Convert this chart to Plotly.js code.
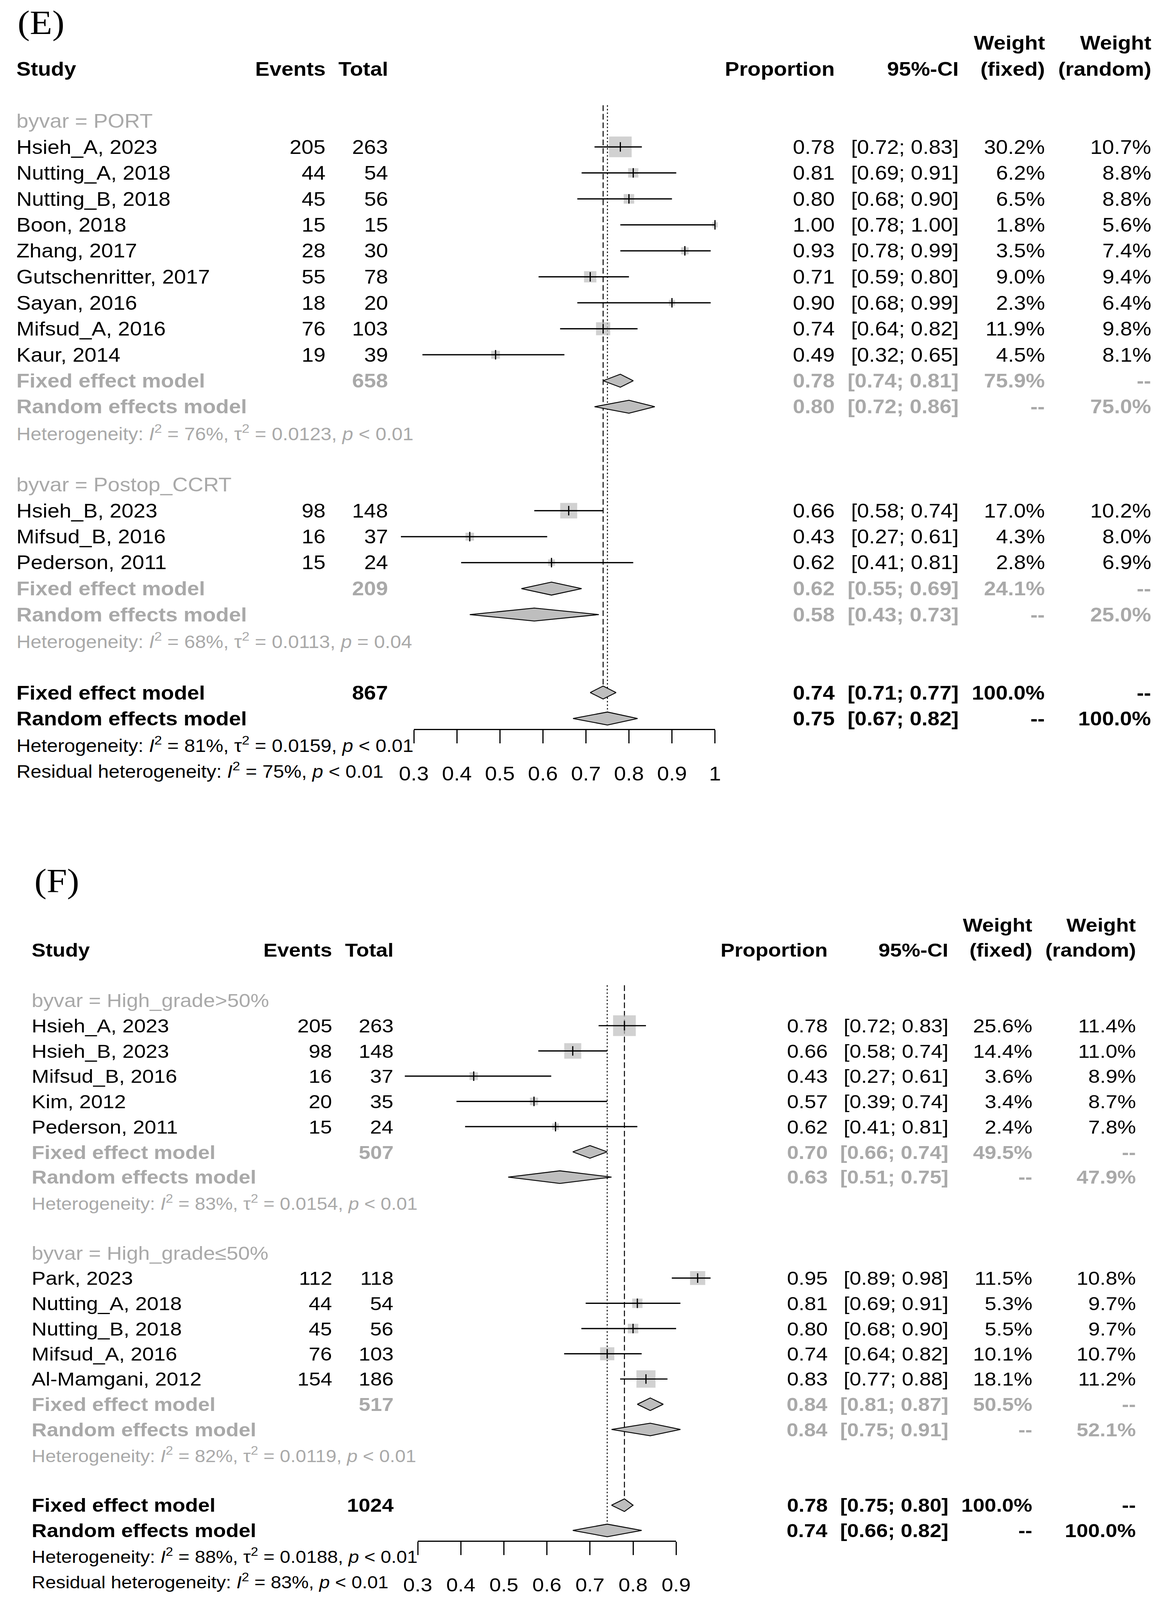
<!DOCTYPE html>
<html><head><meta charset="utf-8">
<script src="https://cdn.plot.ly/plotly-3.0.1.min.js"></script>
<style>html,body{margin:0;padding:0;background:#fff;overflow:hidden}#chart{width:2989px;height:4486px;transform-origin:0 0}</style>
</head><body><div id="chart"></div>
<script>
// ================= DATA: panel (E) =================
const E1_label = "byvar = PORT";
const E1_names = ["Hsieh_A, 2023","Nutting_A, 2018","Nutting_B, 2018","Boon, 2018","Zhang, 2017","Gutschenritter, 2017","Sayan, 2016","Mifsud_A, 2016","Kaur, 2014"];
const E1_events = [205,44,45,15,28,55,18,76,19];
const E1_totals = [263,54,56,15,30,78,20,103,39];
const E1_prop = [0.78,0.81,0.80,1.00,0.93,0.71,0.90,0.74,0.49];
const E1_lower = [0.72,0.69,0.68,0.78,0.78,0.59,0.68,0.64,0.32];
const E1_upper = [0.83,0.91,0.90,1.00,0.99,0.80,0.99,0.82,0.65];
const E1_wfixed = [30.2,6.2,6.5,1.8,3.5,9.0,2.3,11.9,4.5];
const E1_wrandom = [10.7,8.8,8.8,5.6,7.4,9.4,6.4,9.8,8.1];
const E1_fixed = [0.78,0.74,0.81]; const E1_fixedW = 75.9; const E1_n = 658;
const E1_random = [0.80,0.72,0.86]; const E1_randomW = 75.0;
const E1_het = ["76%","0.0123","< 0.01"];

const E2_label = "byvar = Postop_CCRT";
const E2_names = ["Hsieh_B, 2023","Mifsud_B, 2016","Pederson, 2011"];
const E2_events = [98,16,15];
const E2_totals = [148,37,24];
const E2_prop = [0.66,0.43,0.62];
const E2_lower = [0.58,0.27,0.41];
const E2_upper = [0.74,0.61,0.81];
const E2_wfixed = [17.0,4.3,2.8];
const E2_wrandom = [10.2,8.0,6.9];
const E2_fixed = [0.62,0.55,0.69]; const E2_fixedW = 24.1; const E2_n = 209;
const E2_random = [0.58,0.43,0.73]; const E2_randomW = 25.0;
const E2_het = ["68%","0.0113","= 0.04"];

const E_fixed = [0.74,0.71,0.77]; const E_n = 867;
const E_random = [0.75,0.67,0.82];
const E_het = ["81%","0.0159","< 0.01"];
const E_resid = ["75%","< 0.01"];
const E_ticks = [0.3,0.4,0.5,0.6,0.7,0.8,0.9,1.0];
const E_ticklabels = ["0.3","0.4","0.5","0.6","0.7","0.8","0.9","1"];

// ================= DATA: panel (F) =================
const F1_label = "byvar = High_grade&gt;50%";
const F1_names = ["Hsieh_A, 2023","Hsieh_B, 2023","Mifsud_B, 2016","Kim, 2012","Pederson, 2011"];
const F1_events = [205,98,16,20,15];
const F1_totals = [263,148,37,35,24];
const F1_prop = [0.78,0.66,0.43,0.57,0.62];
const F1_lower = [0.72,0.58,0.27,0.39,0.41];
const F1_upper = [0.83,0.74,0.61,0.74,0.81];
const F1_wfixed = [25.6,14.4,3.6,3.4,2.4];
const F1_wrandom = [11.4,11.0,8.9,8.7,7.8];
const F1_fixed = [0.70,0.66,0.74]; const F1_fixedW = 49.5; const F1_n = 507;
const F1_random = [0.63,0.51,0.75]; const F1_randomW = 47.9;
const F1_het = ["83%","0.0154","< 0.01"];

const F2_label = "byvar = High_grade\u226450%";
const F2_names = ["Park, 2023","Nutting_A, 2018","Nutting_B, 2018","Mifsud_A, 2016","Al-Mamgani, 2012"];
const F2_events = [112,44,45,76,154];
const F2_totals = [118,54,56,103,186];
const F2_prop = [0.95,0.81,0.80,0.74,0.83];
const F2_lower = [0.89,0.69,0.68,0.64,0.77];
const F2_upper = [0.98,0.91,0.90,0.82,0.88];
const F2_wfixed = [11.5,5.3,5.5,10.1,18.1];
const F2_wrandom = [10.8,9.7,9.7,10.7,11.2];
const F2_fixed = [0.84,0.81,0.87]; const F2_fixedW = 50.5; const F2_n = 517;
const F2_random = [0.84,0.75,0.91]; const F2_randomW = 52.1;
const F2_het = ["82%","0.0119","< 0.01"];

const F_fixed = [0.78,0.75,0.80]; const F_n = 1024;
const F_random = [0.74,0.66,0.82];
const F_het = ["88%","0.0188","< 0.01"];
const F_resid = ["83%","< 0.01"];
const F_ticks = [0.3,0.4,0.5,0.6,0.7,0.8,0.9];
const F_ticklabels = ["0.3","0.4","0.5","0.6","0.7","0.8","0.9"];

// ================= STYLE / GEOMETRY =================
const W = 2989, H = 4486;
const FONT = "Liberation Sans, Arial, sans-serif";
const SERIF = "Liberation Serif, Times New Roman, serif";
const GRAY_TXT = "#A9A9A9";
const BOX = "#BEBEBE";

const GE = {row0:339, rowH:72.85, col:{study:40, events:835, total:995, prop:2138, ci:2455, wf:2676, wr:2948},
  x03:1059, unit:1101, axisY:2045, dataRange:[0.2,1.05], axRange:[0.3,1.0], tag:"(E)", tagX:43, tagY:63,
  xa:"x", xaxDisp:"x3", ya:"y", fs:55, fsHet:50, ticks:E_ticks, ticklabels:E_ticklabels};
const GF = {row0:2805, rowH:70.76, col:{study:79, events:852, total:1009, prop:2120, ci:2429, wf:2644, wr:2909},
  x03:1069, unit:1102, axisY:4321, dataRange:[0.2,1.0], axRange:[0.3,0.9], tag:"(F)", tagX:86, tagY:2470,
  xa:"x2", xaxDisp:"x4", ya:"y2", fs:53.6, fsHet:48.6, ticks:F_ticks, ticklabels:F_ticklabels};
const BOXMAX = 58, DIAM_H = 0.25;

function grp(label,names,events,totals,prop,lo,hi,wf,wr,fixed,fixedW,n,random,randomW,het){
  return {label,names,events,totals,prop,lo,hi,wf,wr,fixed,fixedW,n,random,randomW,het};
}
const f2 = v => v.toFixed(2);
const ciTxt = (lo,hi) => "[" + f2(lo) + "; " + f2(hi) + "]";
const pct = w => w.toFixed(1) + "%";
const hetTxt = h => "Heterogeneity: <i>I</i><sup>2</sup> = " + h[0] + ", \u03c4<sup>2</sup> = " + h[1] + ", <i>p</i> " + h[2].replace("<","&lt;");

const annotations = [], traces = [], layoutAxes = {};

function buildPanel(groups, ov, G){
  const yref = G.ya;
  const txt = (px, r, text, o) => {
    o = o || {};
    annotations.push({xref:"paper", yref:yref, x:px/W, y:r, xanchor:o.anchor||"right", yanchor:"middle",
      showarrow:false, text:text, font:{family:FONT, size:o.size||G.fs, color:o.color||"#000"}});
  };
  const C = G.col;
  annotations.push({xref:"paper", yref:"paper", x:G.tagX/W, y:1-G.tagY/H, xanchor:"left", yanchor:"middle",
    showarrow:false, text:G.tag, font:{family:SERIF, size:94, color:"#000"}});
  txt(C.study,-2,"<b>Study</b>",{anchor:"left"});
  txt(C.events,-2,"<b>Events</b>");
  txt(C.total,-2,"<b>Total</b>");
  txt(C.prop,-2,"<b>Proportion</b>");
  txt(C.ci,-2,"<b>95%-CI</b>");
  txt(C.wf,-3,"<b>Weight</b>"); txt(C.wf,-2,"<b>(fixed)</b>");
  txt(C.wr,-3,"<b>Weight</b>"); txt(C.wr,-2,"<b>(random)</b>");

  let wmax = 0;
  groups.forEach(g => g.wf.forEach(w => { if (w > wmax) wmax = w; }));

  const ciX=[], ciY=[], sqX=[], sqY=[], sqS=[], tkX=[], tkY=[], dX=[], dY=[];
  const diamond = (est, r) => {
    dX.push(est[1], est[0], est[2], est[0], est[1], null);
    dY.push(r, r-DIAM_H, r, r+DIAM_H, r, null);
  };
  let r = 0;
  groups.forEach(g => {
    txt(C.study, r, g.label, {anchor:"left", color:GRAY_TXT}); r++;
    g.names.forEach((nm,i) => {
      txt(C.study, r, nm, {anchor:"left"});
      txt(C.events, r, String(g.events[i]));
      txt(C.total, r, String(g.totals[i]));
      txt(C.prop, r, f2(g.prop[i]));
      txt(C.ci, r, ciTxt(g.lo[i], g.hi[i]));
      txt(C.wf, r, pct(g.wf[i]));
      txt(C.wr, r, pct(g.wr[i]));
      ciX.push(g.lo[i], g.hi[i], null); ciY.push(r, r, null);
      sqX.push(g.prop[i]); sqY.push(r); sqS.push(BOXMAX*Math.sqrt(g.wf[i]/wmax));
      tkX.push(g.prop[i]); tkY.push(r);
      r++;
    });
    const gb = {color:GRAY_TXT};
    txt(C.study, r, "<b>Fixed effect model</b>", {anchor:"left", color:GRAY_TXT});
    txt(C.total, r, "<b>"+g.n+"</b>", gb);
    txt(C.prop, r, "<b>"+f2(g.fixed[0])+"</b>", gb);
    txt(C.ci, r, "<b>"+ciTxt(g.fixed[1],g.fixed[2])+"</b>", gb);
    txt(C.wf, r, "<b>"+pct(g.fixedW)+"</b>", gb);
    txt(C.wr, r, "<b>--</b>", gb);
    diamond(g.fixed, r); r++;
    txt(C.study, r, "<b>Random effects model</b>", {anchor:"left", color:GRAY_TXT});
    txt(C.prop, r, "<b>"+f2(g.random[0])+"</b>", gb);
    txt(C.ci, r, "<b>"+ciTxt(g.random[1],g.random[2])+"</b>", gb);
    txt(C.wf, r, "<b>--</b>", gb);
    txt(C.wr, r, "<b>"+pct(g.randomW)+"</b>", gb);
    diamond(g.random, r); r++;
    txt(C.study, r, hetTxt(g.het), {anchor:"left", color:GRAY_TXT, size:G.fsHet}); r++;
    r++;
  });
  const rFixed = r;
  txt(C.study, r, "<b>Fixed effect model</b>", {anchor:"left"});
  txt(C.total, r, "<b>"+ov.n+"</b>");
  txt(C.prop, r, "<b>"+f2(ov.fixed[0])+"</b>");
  txt(C.ci, r, "<b>"+ciTxt(ov.fixed[1],ov.fixed[2])+"</b>");
  txt(C.wf, r, "<b>100.0%</b>");
  txt(C.wr, r, "<b>--</b>");
  diamond(ov.fixed, r); r++;
  const rRandom = r;
  txt(C.study, r, "<b>Random effects model</b>", {anchor:"left"});
  txt(C.prop, r, "<b>"+f2(ov.random[0])+"</b>");
  txt(C.ci, r, "<b>"+ciTxt(ov.random[1],ov.random[2])+"</b>");
  txt(C.wf, r, "<b>--</b>");
  txt(C.wr, r, "<b>100.0%</b>");
  diamond(ov.random, r); r++;
  txt(C.study, r, hetTxt(ov.het), {anchor:"left", size:G.fsHet}); r++;
  txt(C.study, r, "Residual heterogeneity: <i>I</i><sup>2</sup> = " + ov.resid[0] + ", <i>p</i> " + ov.resid[1].replace("<","&lt;"), {anchor:"left", size:G.fsHet});

  const base = {xaxis:G.xa, yaxis:G.ya, hoverinfo:"skip", showlegend:false, cliponaxis:false};
  traces.push(Object.assign({}, base, {type:"scatter", mode:"lines", x:[ov.fixed[0], ov.fixed[0]], y:[-0.6, rFixed],
    line:{color:"#000", width:2.5, dash:"16px,8px"}}));
  traces.push(Object.assign({}, base, {type:"scatter", mode:"lines", x:[ov.random[0], ov.random[0]], y:[-0.6, rRandom],
    line:{color:"#000", width:2.5, dash:"4px,6px"}}));
  traces.push(Object.assign({}, base, {type:"scatter", mode:"markers", x:sqX, y:sqY,
    marker:{symbol:"square", size:sqS, color:BOX, line:{width:0}}}));
  traces.push(Object.assign({}, base, {type:"scatter", mode:"lines", x:ciX, y:ciY, line:{color:"#000", width:3.5}}));
  traces.push(Object.assign({}, base, {type:"scatter", mode:"markers", x:tkX, y:tkY,
    marker:{symbol:"line-ns", size:19, color:"#000", line:{width:3, color:"#000"}}}));
  traces.push(Object.assign({}, base, {type:"scatter", mode:"lines", x:dX, y:dY, fill:"toself",
    fillcolor:BOX, line:{color:"#000", width:2.5}}));
  traces.push({type:"scatter", x:[], y:[], xaxis:G.xaxDisp, yaxis:G.ya, hoverinfo:"skip", showlegend:false});

  const px = v => G.x03 + (v - 0.3) * G.unit;
  const dKey = G.xa === "x" ? "xaxis" : "xaxis" + G.xa.slice(1);
  const aKey = "xaxis" + G.xaxDisp.slice(1);
  const yKey = G.ya === "y" ? "yaxis" : "yaxis" + G.ya.slice(1);
  layoutAxes[dKey] = {domain:[px(G.dataRange[0])/W, px(G.dataRange[1])/W], range:G.dataRange, visible:false,
    anchor:G.ya, fixedrange:true};
  layoutAxes[aKey] = {domain:[px(G.axRange[0])/W, px(G.axRange[1])/W], range:G.axRange, anchor:"free",
    position:1 - G.axisY/H, showline:true, linecolor:"#000", linewidth:3, ticks:"outside", ticklen:37, tickwidth:3,
    tickcolor:"#000", tickmode:"array", tickvals:G.ticks, ticktext:G.ticklabels,
    tickfont:{family:FONT, size:G.fs, color:"#000"}, ticklabelstandoff:38, showgrid:false, zeroline:false, fixedrange:true};
  layoutAxes[yKey] = {domain:[0,1], range:[(H - G.row0)/G.rowH, -G.row0/G.rowH], visible:false, fixedrange:true,
    anchor:G.xa};
}

buildPanel([
  grp(E1_label,E1_names,E1_events,E1_totals,E1_prop,E1_lower,E1_upper,E1_wfixed,E1_wrandom,E1_fixed,E1_fixedW,E1_n,E1_random,E1_randomW,E1_het),
  grp(E2_label,E2_names,E2_events,E2_totals,E2_prop,E2_lower,E2_upper,E2_wfixed,E2_wrandom,E2_fixed,E2_fixedW,E2_n,E2_random,E2_randomW,E2_het)
], {fixed:E_fixed, n:E_n, random:E_random, het:E_het, resid:E_resid}, GE);

buildPanel([
  grp(F1_label,F1_names,F1_events,F1_totals,F1_prop,F1_lower,F1_upper,F1_wfixed,F1_wrandom,F1_fixed,F1_fixedW,F1_n,F1_random,F1_randomW,F1_het),
  grp(F2_label,F2_names,F2_events,F2_totals,F2_prop,F2_lower,F2_upper,F2_wfixed,F2_wrandom,F2_fixed,F2_fixedW,F2_n,F2_random,F2_randomW,F2_het)
], {fixed:F_fixed, n:F_n, random:F_random, het:F_het, resid:F_resid}, GF);

const layout = Object.assign({
  width:W, height:H, margin:{l:0,r:0,t:0,b:0,pad:0}, paper_bgcolor:"#fff", plot_bgcolor:"rgba(0,0,0,0)",
  showlegend:false, annotations:annotations, font:{family:FONT, color:"#000"}
}, layoutAxes);

// The viewport can be shorter than the 4486 px the figure is designed for: squeeze to fit it.
const chartDiv = document.getElementById("chart");
const vw = window.innerWidth || W, vh = window.innerHeight || H;
const sx = Math.min(1, vw / W), sy = Math.min(1, vh / H);
if (sx < 1 || sy < 1) chartDiv.style.transform = "scale(" + sx + "," + sy + ")";

Plotly.newPlot("chart", traces, layout, {staticPlot:true, displayModeBar:false});
</script></body></html>
